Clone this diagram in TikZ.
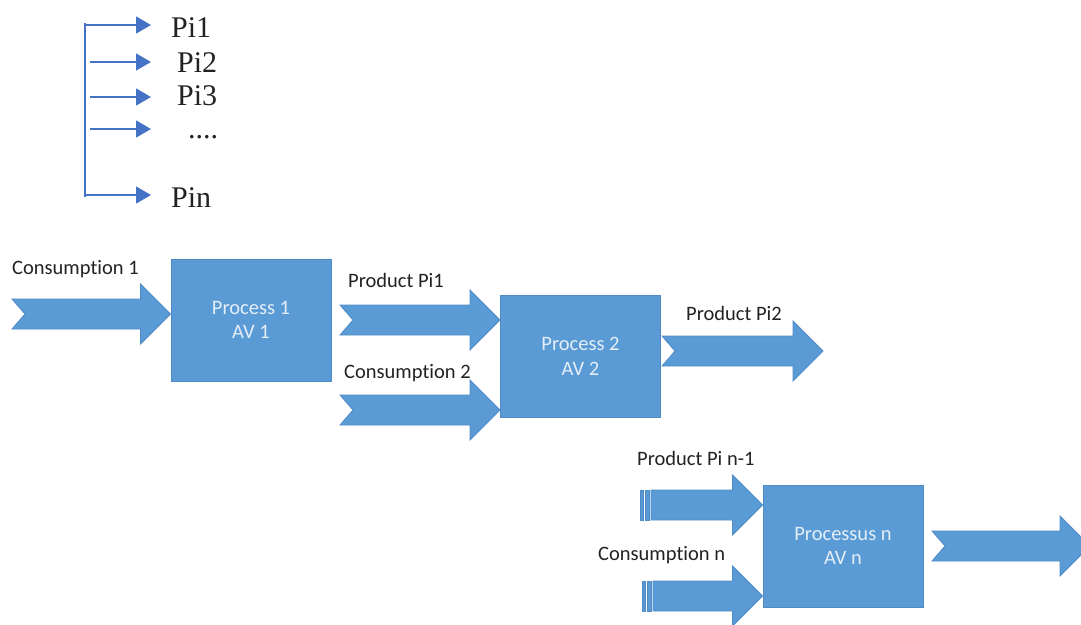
\documentclass[tikz,border=0pt]{standalone}
\usepackage{fontspec}
\setmainfont{Liberation Serif}
\newfontfamily\calib[Ligatures=NoCommon]{Carlito}
\usetikzlibrary{arrows.meta,calc}
\definecolor{procfill}{HTML}{5B9BD5}
\definecolor{procline}{HTML}{4F8BC6}
\definecolor{proctext}{HTML}{E4EEF8}
\definecolor{tickblue}{HTML}{4472C4}
\definecolor{ink}{HTML}{222222}
\tikzset{
  procbox/.style={fill=procfill,draw=procline,line width=1pt,minimum width=160pt,
    minimum height=122pt,inner sep=0pt,text=proctext,align=center,
    font=\calib\fontsize{20.5}{24.5}\selectfont},
  flowlabel/.style={anchor=base west,inner sep=0pt,text=ink,
    font=\calib\fontsize{20.5}{24}\selectfont},
  pilabel/.style={anchor=base west,inner sep=0pt,text=ink,font=\fontsize{30}{30}\selectfont},
  blockarrow/.style={fill=procfill,draw=procline,line width=0.8pt,line join=miter},
  bar/.style={tickblue,line width=1.4pt},
  tick/.style={bar,-{Triangle[length=15pt,width=17pt]}}
}
% block arrow with a notched tail: #1 tail, #2 tip
\newcommand{\notcharrow}[2]{%
  \path[blockarrow] ($(#1)+(0,-15)$) -- ($(#2)+(-30,-15)$) -- ($(#2)+(-30,-30)$) -- (#2)
    -- ($(#2)+(-30,30)$) -- ($(#2)+(-30,15)$) -- ($(#1)+(0,15)$) -- ($(#1)+(13,0)$) -- cycle;}
% block arrow with two stripes at the tail
\newcommand{\stripearrow}[2]{%
  \path[blockarrow] ($(#1)+(0,-15)$) rectangle ($(#1)+(3,15)$);
  \path[blockarrow] ($(#1)+(5,-15)$) rectangle ($(#1)+(9,15)$);
  \path[blockarrow] ($(#1)+(11,-15)$) -- ($(#2)+(-30,-15)$) -- ($(#2)+(-30,-30)$) -- (#2)
    -- ($(#2)+(-30,30)$) -- ($(#2)+(-30,15)$) -- ($(#1)+(11,15)$) -- cycle;}

\begin{document}
\begin{tikzpicture}[x=1pt,y=-1pt]
\useasboundingbox (0,0) rectangle (1081,624);

% list of products
\coordinate (tipx) at (151,0);
\coordinate (top) at (85,25);
\coordinate (bot) at (85,195);
\draw[bar] (85,23) -- (85,197);
\draw[tick] (top) -- (top -| tipx);
\draw[tick] (bot) -- (bot -| tipx);
\foreach \y [count=\i] in {62,97,129} {
  \coordinate (m\i) at (90,\y);
  \draw[tick] (m\i) -- (m\i -| tipx);
}
\node[pilabel] (pi1) at (171,37) {Pi1};
\node[pilabel] (pi2) at (177,72) {Pi2};
\node[pilabel] (pi3) at (177,105) {Pi3};
\node[pilabel] (pidots) at (188,138) {....};
\node[pilabel] (pin) at (171,207) {Pin};

% processes
\node[procbox] (p1) at (251,320) {Process 1\\AV 1};
\node[procbox] (p2) at (580.5,356.5) {Process 2\\AV 2};
\node[procbox] (pn) at (843,546) {Processus n\\AV n};

% flows
\coordinate (c1) at (12,314);
\coordinate (t1) at (340,320);
\coordinate (c2) at (340,410);
\coordinate (t2) at (662,351);
\coordinate (e2) at (823,351);
\coordinate (tn) at (640,505);
\coordinate (cn) at (642,596);
\coordinate (on) at (932,546);
\coordinate (en) at (1090,546);
\notcharrow{c1}{c1 -| p1.west}
\notcharrow{t1}{t1 -| p2.west}
\notcharrow{c2}{c2 -| p2.west}
\notcharrow{t2}{e2}
\stripearrow{tn}{tn -| pn.west}
\stripearrow{cn}{cn -| pn.west}
\notcharrow{on}{en}

\node[flowlabel] (lc1) at (12,274) {Consumption 1};
\node[flowlabel] (lt1) at (348,287) {Product Pi1};
\node[flowlabel] (lc2) at (344,378) {Consumption 2};
\node[flowlabel] (lt2) at (686,320) {Product Pi2};
\node[flowlabel] (ltn) at (637,465) {Product Pi n-1};
\node[flowlabel] (lcn) at (598,560) {Consumption n};
\end{tikzpicture}
\end{document}
